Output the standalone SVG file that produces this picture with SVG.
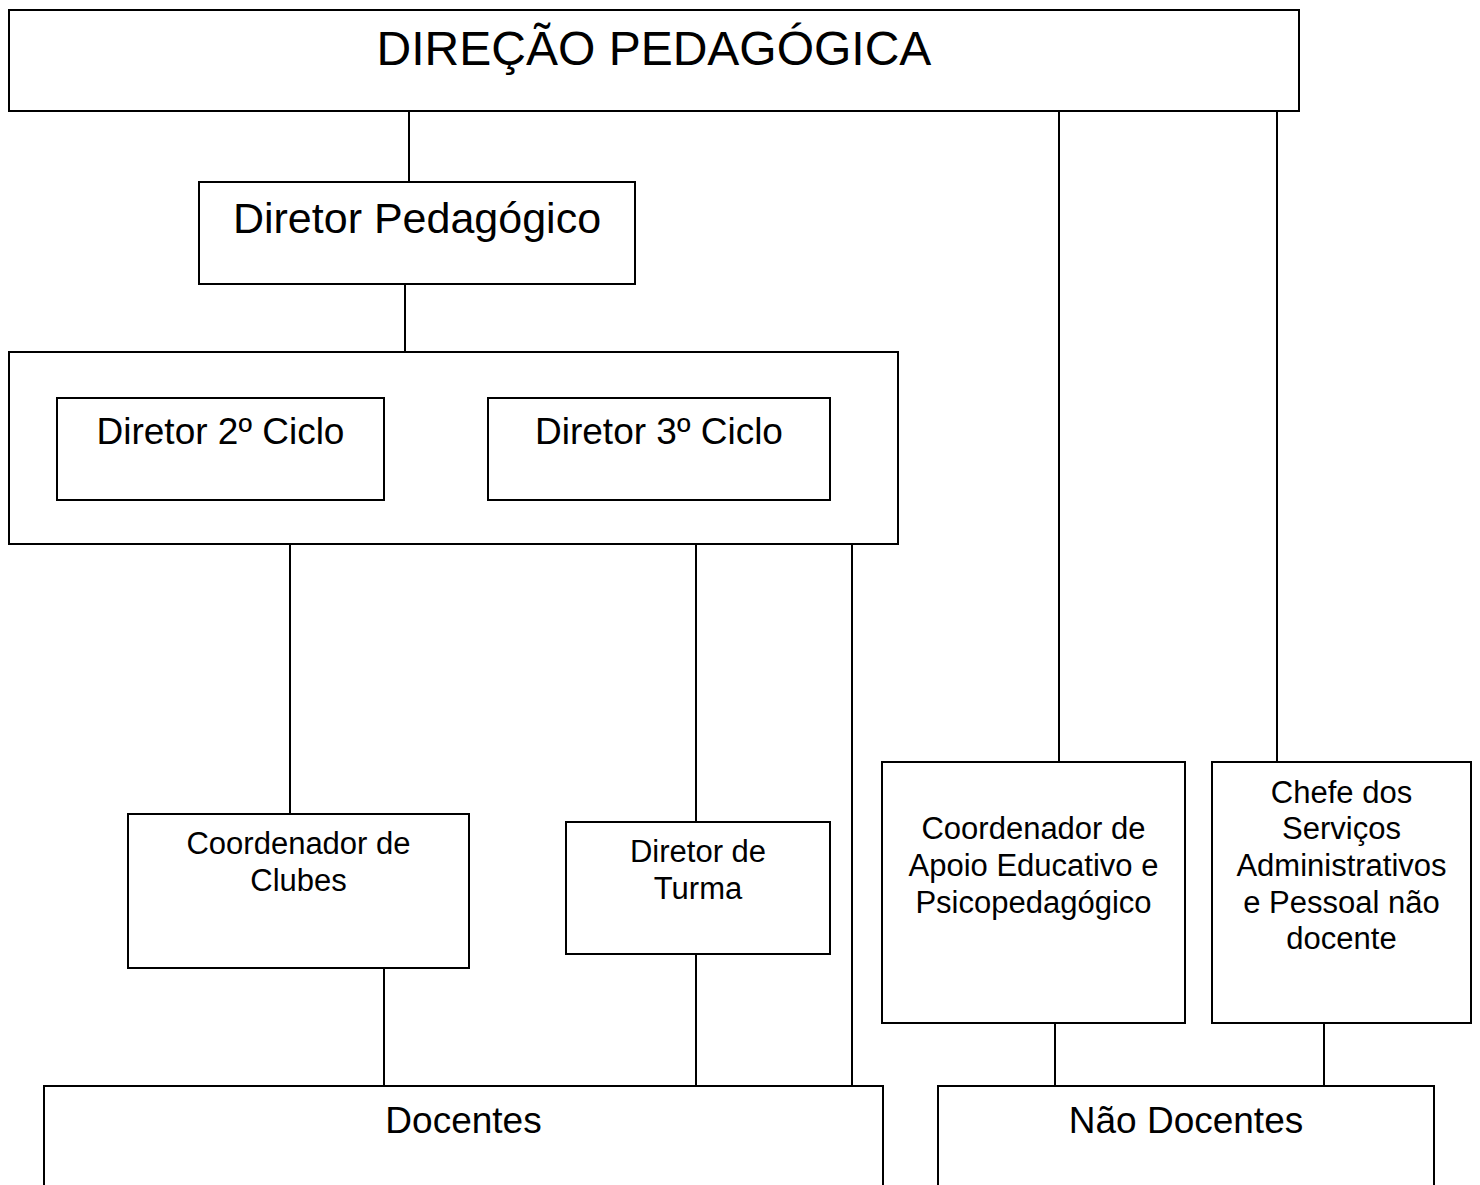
<svg xmlns="http://www.w3.org/2000/svg" width="1480" height="1185" viewBox="0 0 1480 1185">
<style>
.box{fill:#fff;stroke:#000;stroke-width:2}
.ln{stroke:#000;stroke-width:2;fill:none}
text{font-family:"Liberation Sans",Arial,sans-serif;fill:#000;text-anchor:middle}
.t48{font-size:48px}
.t43{font-size:43px}
.t37{font-size:37px}
.t31{font-size:31px}
</style>
<rect width="1480" height="1185" fill="#fff"/>
<g id="connectors">
<line class="ln" x1="409" y1="111" x2="409" y2="182"/>
<line class="ln" x1="405" y1="284" x2="405" y2="352"/>
<line class="ln" x1="1059" y1="111" x2="1059" y2="762"/>
<line class="ln" x1="1277" y1="111" x2="1277" y2="762"/>
<line class="ln" x1="290" y1="545" x2="290" y2="814"/>
<line class="ln" x1="696" y1="543" x2="696" y2="822"/>
<line class="ln" x1="852" y1="545" x2="852" y2="1086"/>
<line class="ln" x1="384" y1="968" x2="384" y2="1086"/>
<line class="ln" x1="696" y1="954" x2="696" y2="1086"/>
<line class="ln" x1="1055" y1="1023" x2="1055" y2="1086"/>
<line class="ln" x1="1324" y1="1023" x2="1324" y2="1086"/>
</g>
<g id="direcao">
<rect class="box" x="9" y="10" width="1290" height="101"/>
<text class="t48" x="654" y="65">DIREÇÃO PEDAGÓGICA</text>
</g>
<g id="diretor-pedagogico">
<rect class="box" x="199" y="182" width="436" height="102"/>
<text class="t43" x="417" y="233">Diretor Pedagógico</text>
</g>
<g id="grupo-ciclos">
<rect class="box" x="9" y="352" width="889" height="192"/>
</g>
<g id="diretor-2-ciclo">
<rect class="box" x="57" y="398" width="327" height="102"/>
<text class="t37" x="220.5" y="444">Diretor 2º Ciclo</text>
</g>
<g id="diretor-3-ciclo">
<rect class="box" x="488" y="398" width="342" height="102"/>
<text class="t37" x="659" y="444">Diretor 3º Ciclo</text>
</g>
<g id="coord-clubes">
<rect class="box" x="128" y="814" width="341" height="154"/>
<text class="t31" x="298.5" y="854">Coordenador de</text>
<text class="t31" x="298.5" y="891">Clubes</text>
</g>
<g id="diretor-turma">
<rect class="box" x="566" y="822" width="264" height="132"/>
<text class="t31" x="698" y="862">Diretor de</text>
<text class="t31" x="698" y="899">Turma</text>
</g>
<g id="coord-apoio">
<rect class="box" x="882" y="762" width="303" height="261"/>
<text class="t31" x="1033.5" y="839">Coordenador de</text>
<text class="t31" x="1033.5" y="876">Apoio Educativo e</text>
<text class="t31" x="1033.5" y="913">Psicopedagógico</text>
</g>
<g id="chefe-servicos">
<rect class="box" x="1212" y="762" width="259" height="261"/>
<text class="t31" x="1341.5" y="803">Chefe dos</text>
<text class="t31" x="1341.5" y="839">Serviços</text>
<text class="t31" x="1341.5" y="876">Administrativos</text>
<text class="t31" x="1341.5" y="913">e Pessoal não</text>
<text class="t31" x="1341.5" y="949">docente</text>
</g>
<g id="docentes">
<rect class="box" x="44" y="1086" width="839" height="130"/>
<text class="t37" x="463.5" y="1133">Docentes</text>
</g>
<g id="nao-docentes">
<rect class="box" x="938" y="1086" width="496" height="130"/>
<text class="t37" x="1186" y="1133">Não Docentes</text>
</g>
</svg>
